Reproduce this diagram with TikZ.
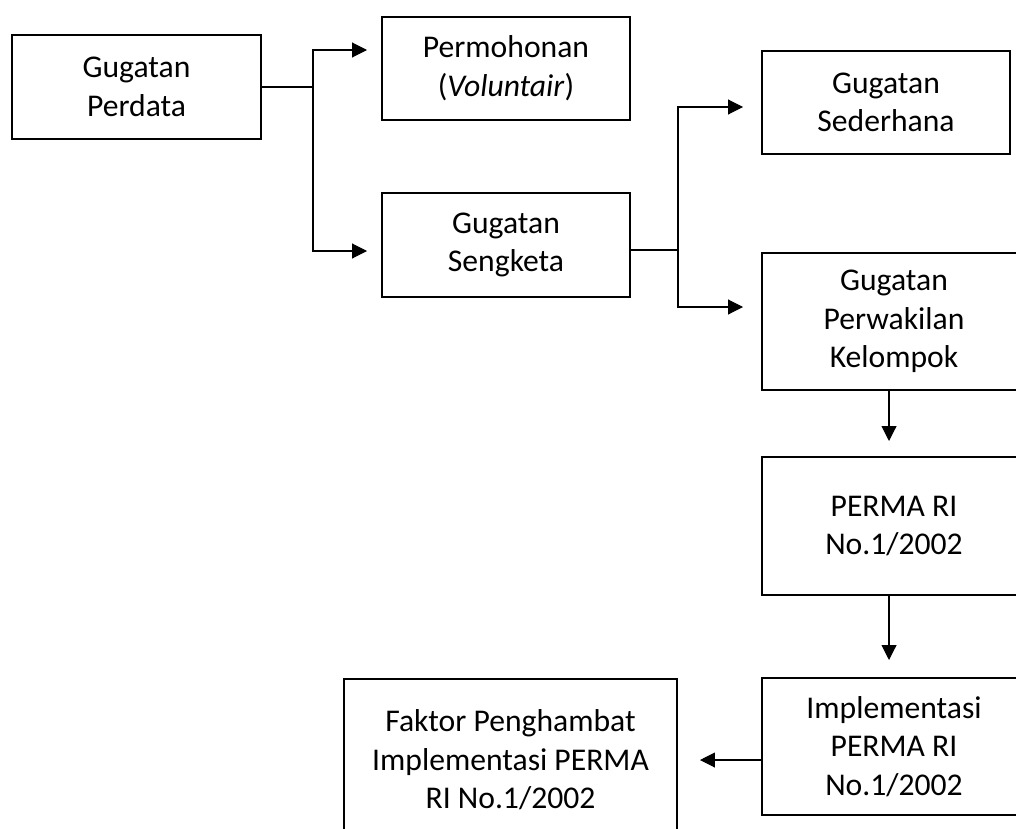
\documentclass[tikz,border=0pt]{standalone}
\usepackage{fontspec}
\setmainfont{Carlito}
\usetikzlibrary{arrows.meta}

\begin{document}
\begin{tikzpicture}[x=0.025cm, y=-0.025cm,
	box/.style={draw, line width=1.4pt, align=center, minimum width=6.2cm, minimum height=2.6cm,
		font=\fontsize{22.5pt}{27.5pt}\selectfont},
	tallbox/.style={box, minimum width=6.6cm, minimum height=3.425cm},
	line/.style={line width=0.75pt},
	arr/.style={line, -{Triangle[length=10.5pt,width=10.5pt]}}]
			%%%%% START %%%%%
			
			\clip (0,0) rectangle (1016,828);
			
			\node[box, minimum width=6.225cm] (perdata) at (136.5,87) {Gugatan\\Perdata};
			\node[box, minimum height=2.575cm] (mohon) at (506,68.5) {Permohonan\\(\textit{Voluntair})};
			\node[box] (sengketa) at (506,245) {Gugatan\\Sengketa};
			\node[box, minimum height=2.575cm] (sederhana) at (886,102.5) {Gugatan\\Sederhana};
			
			\node[tallbox] (perwakilan) at (894,321.5) {Gugatan\\Perwakilan\\Kelompok};
			\node[tallbox, minimum height=3.45cm] (perma) at (894,526) {PERMA RI\\No.1/2002};
			\node[tallbox] (impl) at (894,746.5) {Implementasi\\PERMA RI\\No.1/2002};
			\node[box, minimum width=8.325cm, minimum height=4.05cm] (faktor) at (510.5,760) {Faktor Penghambat\\Implementasi PERMA\\RI No.1/2002};
			
			\coordinate (j1) at (313,87);
			\coordinate (t1) at (367,50);
			\coordinate (t2) at (367,251);
			\draw[line] (perdata.east) -- (j1);
			\draw[arr] (j1) |- (t1);
			\draw[arr] (j1) |- (t2);
			
			\coordinate (j2) at (678,250);
			\coordinate (t3) at (743,107);
			\coordinate (t4) at (743,307);
			\draw[line] (sengketa.east |- j2) -- (j2);
			\draw[arr] (j2) |- (t3);
			\draw[arr] (j2) |- (t4);
			
			\coordinate (t5) at (889,441);
			\coordinate (t6) at (889,660);
			\coordinate (t7) at (700,760);
			\draw[arr] (t5 |- perwakilan.south) -- (t5);
			\draw[arr] (t6 |- perma.south) -- (t6);
			\draw[arr] (impl.west |- faktor.east) -- (t7);
			
			%%%%% END %%%%%
		\end{tikzpicture}
\end{document}
